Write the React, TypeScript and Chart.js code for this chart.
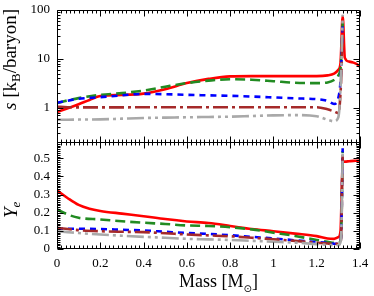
import React, { useEffect, useRef } from 'react';
import { Chart, registerables } from 'chart.js';
Chart.register(...registerables);

// ---------- data ----------
const massCore = [0, 0.05, 0.1, 0.2, 0.3, 0.4, 0.5, 0.6, 0.7, 0.8, 0.9, 1.0, 1.1, 1.2, 1.25, 1.28, 1.3, 1.312, 1.32];
const massRed = [0, 0.05, 0.1, 0.15, 0.2, 0.3, 0.4, 0.5, 0.6, 0.7, 0.8, 0.9, 1.0, 1.1, 1.2, 1.25, 1.28, 1.3, 1.31, 1.32, 1.33, 1.35, 1.37, 1.39, 1.4];

// entropy s [kB/baryon]
const sRed = [0.82, 0.98, 1.18, 1.45, 1.75, 1.83, 1.95, 2.4, 3.2, 3.9, 4.4, 4.45, 4.45, 4.45, 4.45, 4.6, 5.0, 6.0, 8.3, 75, 10.5, 8.8, 8.4, 7.6, 6.9];
const sGreen = [1.25, 1.42, 1.58, 1.84, 2.0, 2.25, 2.7, 3.2, 3.6, 3.85, 3.75, 3.5, 3.25, 3.2, 3.3, 3.7, 4.6, 8, 55];
const sBlue = [1.27, 1.4, 1.53, 1.65, 1.8, 1.93, 1.9, 1.84, 1.8, 1.76, 1.7, 1.63, 1.56, 1.5, 1.38, 1.2, 1.6, 5, 55];
const sBrown = [1.05, 1.03, 1.02, 1.02, 1.02, 1.03, 1.03, 1.03, 1.03, 1.03, 1.03, 1.03, 1.03, 1.03, 0.93, 0.84, 0.78, 3, 38];
const sGray = [0.57, 0.572, 0.575, 0.58, 0.6, 0.62, 0.63, 0.64, 0.65, 0.66, 0.68, 0.7, 0.71, 0.67, 0.57, 0.53, 0.64, 4, 80];

// electron fraction Ye
const yeRed = [0.323, 0.28, 0.243, 0.222, 0.21, 0.195, 0.181, 0.165, 0.152, 0.143, 0.127, 0.11, 0.098, 0.085, 0.071, 0.058, 0.056, 0.065, 0.1, 0.48, 0.482, 0.484, 0.486, 0.487, 0.488];
const yeGreen = [0.218, 0.19, 0.172, 0.163, 0.153, 0.145, 0.138, 0.13, 0.127, 0.12, 0.108, 0.09, 0.072, 0.05, 0.04, 0.034, 0.034, 0.06, 0.54];
const yeBlue = [0.113, 0.112, 0.112, 0.11, 0.106, 0.102, 0.095, 0.088, 0.083, 0.076, 0.067, 0.058, 0.048, 0.038, 0.033, 0.029, 0.029, 0.06, 0.555];
const yeBrown = [0.117, 0.11, 0.104, 0.098, 0.095, 0.093, 0.087, 0.08, 0.075, 0.07, 0.062, 0.054, 0.045, 0.035, 0.03, 0.028, 0.028, 0.05, 0.52];
const yeGray = [0.098, 0.093, 0.088, 0.08, 0.073, 0.067, 0.062, 0.056, 0.053, 0.05, 0.045, 0.04, 0.035, 0.027, 0.023, 0.021, 0.021, 0.05, 0.53];

const xTicks = [0, 0.2, 0.4, 0.6, 0.8, 1, 1.2, 1.4];
const sTickLabels = [1, 10, 100];
const yeTicks = [0, 0.1, 0.2, 0.3, 0.4, 0.5];

const SERIF = '"Liberation Serif", "Times New Roman", serif';

const styles = [
  { color: '#ff0000', dash: [] as number[], order: 5 },
  { color: '#228b22', dash: [10, 5], order: 4 },
  { color: '#0000ff', dash: [6, 5], order: 3 },
  { color: '#a52a2a', dash: [15, 4, 3, 4], order: 2 },
  { color: '#a9a9a9', dash: [17, 4, 3, 4, 3, 4], order: 1 },
];

function pts(m: number[], v: number[]) {
  return m.map((x, i) => ({ x, y: v[i] }));
}

const framePlugin = {
  id: 'frame',
  afterDraw(chart: any) {
    const ctx = chart.ctx as CanvasRenderingContext2D;
    const xs = chart.scales.x;
    const ys = chart.scales.yS;
    const yy = chart.scales.yY;
    const L = Math.round(chart.chartArea.left) + 0.5;
    const R = Math.round(chart.chartArea.right) - 0.5;
    const T = Math.round(ys.top) + 0.5;
    const M = Math.round(ys.bottom) + 0.5;
    const B = Math.round(yy.bottom) - 0.5;
    ctx.save();
    ctx.strokeStyle = '#000';
    ctx.lineWidth = 1;
    ctx.setLineDash([]);
    ctx.beginPath();
    ctx.rect(L, T, R - L, B - T);
    ctx.moveTo(L, M);
    ctx.lineTo(R, M);
    ctx.stroke();

    const MAJ = 6, MIN = 3;
    ctx.beginPath();
    // x ticks
    for (let i = 0; i <= 70; i++) {
      const v = i * 0.02;
      const px = Math.round(xs.getPixelForValue(v)) + 0.5;
      const len = i % 10 === 0 ? MAJ : MIN;
      ctx.moveTo(px, T); ctx.lineTo(px, T + len);
      ctx.moveTo(px, M - len); ctx.lineTo(px, M + len);
      ctx.moveTo(px, B); ctx.lineTo(px, B - len);
    }
    // log ticks
    for (const d of [0.1, 1, 10, 100]) {
      for (let k = 1; k <= 9; k++) {
        const v = k * d;
        if (v < 0.2 - 1e-9 || v > 100 + 1e-9) continue;
        const py = Math.round(ys.getPixelForValue(v)) + 0.5;
        const len = k === 1 ? MAJ : MIN;
        ctx.moveTo(L, py); ctx.lineTo(L + len, py);
        ctx.moveTo(R, py); ctx.lineTo(R - len, py);
      }
    }
    // Ye ticks
    for (let i = 0; i <= 59; i++) {
      const v = i * 0.01;
      const py = Math.round(yy.getPixelForValue(v)) + 0.5;
      const len = i % 10 === 0 ? MAJ : MIN;
      ctx.moveTo(L, py); ctx.lineTo(L + len, py);
      ctx.moveTo(R, py); ctx.lineTo(R - len, py);
    }
    ctx.stroke();

    // axis titles
    ctx.fillStyle = '#000';
    ctx.textBaseline = 'alphabetic';
    ctx.textAlign = 'left';
    const drawRuns = (runs: { t: string; f: string; dy: number }[]) => {
      let x = 0;
      for (const r of runs) {
        ctx.font = r.f;
        ctx.fillText(r.t, x, r.dy);
        x += ctx.measureText(r.t).width;
      }
    };
    // s [kB/baryon]
    ctx.save();
    ctx.translate(16, 110);
    ctx.rotate(-Math.PI / 2);
    drawRuns([
      { t: 's', f: `italic 19px ${SERIF}`, dy: 0 },
      { t: ' [k', f: `19px ${SERIF}`, dy: 0 },
      { t: 'B', f: `13px ${SERIF}`, dy: 4 },
      { t: '/baryon]', f: `19px ${SERIF}`, dy: 0 },
    ]);
    ctx.restore();
    // Ye
    ctx.save();
    ctx.translate(17, 218);
    ctx.rotate(-Math.PI / 2);
    drawRuns([
      { t: 'Y', f: `italic 19px ${SERIF}`, dy: 0 },
      { t: 'e', f: `italic 13px ${SERIF}`, dy: 3 },
    ]);
    ctx.restore();
    // Mass [M☉]
    ctx.save();
    ctx.translate(179, 287);
    drawRuns([
      { t: 'Mass [M', f: `18px ${SERIF}`, dy: 0 },
      { t: '\u2299', f: `10px "DejaVu Sans", sans-serif`, dy: 5 },
      { t: ']', f: `18px ${SERIF}`, dy: 0 },
    ]);
    ctx.restore();
    ctx.restore();
  },
};

export default function App() {
  const ref = useRef<HTMLCanvasElement | null>(null);
  useEffect(() => {
    document.body.style.margin = '0';
    const canvas = ref.current!;
    const sSeries = [
      pts(massRed, sRed), pts(massCore, sGreen), pts(massCore, sBlue), pts(massCore, sBrown), pts(massCore, sGray),
    ];
    const yeSeries = [
      pts(massRed, yeRed), pts(massCore, yeGreen), pts(massCore, yeBlue), pts(massCore, yeBrown), pts(massCore, yeGray),
    ];
    const mk = (data: any[], i: number, axis: string) => ({
      data,
      yAxisID: axis,
      borderColor: styles[i].color,
      borderDash: styles[i].dash,
      borderWidth: 2.6,
      pointRadius: 0,
      fill: false,
      order: styles[i].order,
      cubicInterpolationMode: 'monotone' as const,
    });
    const datasets = [
      ...sSeries.map((d, i) => mk(d, i, 'yS')),
      ...yeSeries.map((d, i) => mk(d, i, 'yY')),
    ];
    const tickFont = { family: SERIF, size: 13 };
    const fitY = (s: any) => { s.width = 57; s.paddingTop = 0; s.paddingBottom = 0; };
    const chart = new Chart(canvas, {
      type: 'line',
      data: { datasets },
      plugins: [framePlugin],
      options: {
        animation: false,
        responsive: false,
        devicePixelRatio: 1,
        layout: { padding: { top: 10, right: 14, left: 0, bottom: 0 } },
        plugins: { legend: { display: false }, tooltip: { enabled: false } },
        scales: {
          x: {
            type: 'linear',
            min: 0,
            max: 1.4,
            grid: { display: false, drawTicks: false },
            border: { display: false },
            afterBuildTicks: (s: any) => { s.ticks = xTicks.map((v) => ({ value: v })); },
            afterFit: (s: any) => { s.height = 47; s.paddingLeft = 0; s.paddingRight = 0; },
            ticks: {
              font: tickFont,
              color: '#000',
              padding: 7,
              maxRotation: 0,
              autoSkip: false,
              callback: (v: any) => String(Number(Number(v).toFixed(2))),
            },
          },
          yY: {
            type: 'linear',
            position: 'left',
            stack: 'panels',
            stackWeight: 107,
            min: 0,
            max: 0.59,
            grid: { display: false, drawTicks: false },
            border: { display: false },
            afterBuildTicks: (s: any) => { s.ticks = yeTicks.map((v) => ({ value: v })); },
            afterFit: fitY,
            ticks: {
              font: tickFont,
              color: '#000',
              padding: 7,
              autoSkip: false,
              callback: (v: any) => String(Number(Number(v).toFixed(2))),
            },
          },
          yS: {
            type: 'logarithmic',
            position: 'left',
            stack: 'panels',
            stackWeight: 132,
            min: 0.2,
            max: 100,
            grid: { display: false, drawTicks: false },
            border: { display: false },
            afterBuildTicks: (s: any) => { s.ticks = sTickLabels.map((v) => ({ value: v })); },
            afterFit: fitY,
            ticks: {
              font: tickFont,
              color: '#000',
              padding: 7,
              autoSkip: false,
              callback: (v: any) => String(v),
            },
          },
        },
      } as any,
    });
    return () => chart.destroy();
  }, []);
  return (
    <div style={{ position: 'absolute', left: 0, top: 0 }}>
      <canvas ref={ref} width={374} height={296} style={{ width: 374, height: 296, display: 'block' }} />
    </div>
  );
}
